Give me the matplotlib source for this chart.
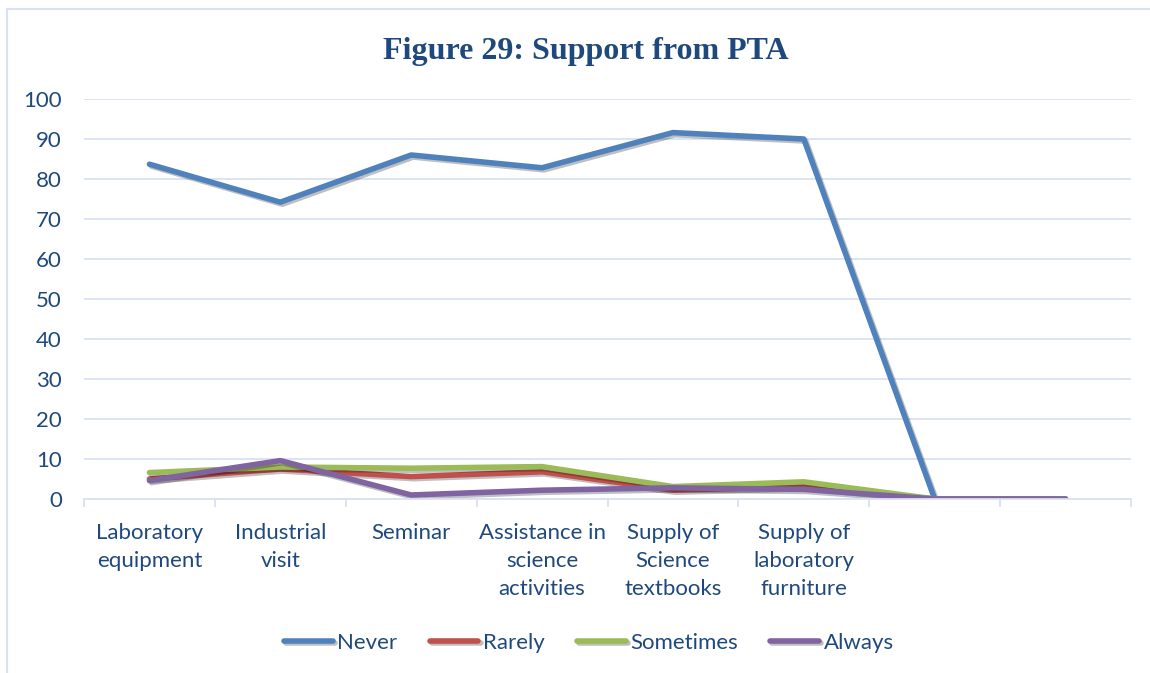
import numpy as np
import matplotlib.pyplot as plt
import matplotlib.patheffects as pe
from matplotlib.lines import Line2D

# Datos
categories = ["Laboratory\nequipment", "Industrial\nvisit", "Seminar",
              "Assistance in\nscience\nactivities", "Supply of\nScience\ntextbooks",
              "Supply of\nlaboratory\nfurniture", "", ""]
never = [83.7, 74.2, 86.0, 82.8, 91.6, 90.0, 0, 0]
rarely = [5.0, 7.5, 5.6, 6.8, 2.2, 3.1, 0, 0]
sometimes = [6.6, 8.0, 7.7, 8.1, 3.1, 4.3, 0, 0]
always = [4.6, 9.6, 1.0, 2.2, 2.8, 2.4, 0, 0]

series = [("Never", never, "#4F81BD"), ("Rarely", rarely, "#C0504D"),
          ("Sometimes", sometimes, "#9BBB59"), ("Always", always, "#8064A2")]

txt = "#1F497D"
grid = "#D9E2F3"
plt.rcParams['font.family'] = ['Lato', 'DejaVu Sans']

fig = plt.figure(figsize=(11.5, 6.73), dpi=100)
ax = fig.add_axes([84/1150, 1 - 499/673, (1131-84)/1150, 400/673])

x = np.arange(len(categories))
shadow = [pe.SimpleLineShadow(offset=(1.5, -1.5), shadow_color="k", alpha=0.25),
          pe.Normal()]
for name, vals, col in series:
    ax.plot(x, vals, color=col, lw=4.0, label=name, solid_capstyle="round",
            solid_joinstyle="round", path_effects=shadow)

ax.set_xlim(-0.5, len(categories) - 0.5)
ax.set_ylim(0, 100)
ax.set_yticks(np.arange(0, 101, 10))
ax.yaxis.grid(True, color=grid, lw=1.3)
ax.set_axisbelow(True)
for s in ["top", "right", "left"]:
    ax.spines[s].set_visible(False)
ax.spines["bottom"].set_color(grid)
ax.spines["bottom"].set_linewidth(1.3)

ax.set_xticks(x)
ax.set_xticklabels(categories, linespacing=1.52)
ax.set_xticks(np.arange(-0.5, len(categories)), minor=True)
ax.tick_params(axis="x", which="major", length=0, pad=17, labelsize=16, labelcolor=txt)
ax.tick_params(axis="x", which="minor", length=6, color=grid, width=1.3)
ax.tick_params(axis="y", length=0, pad=16, labelsize=16, labelcolor=txt)

fig.text(0.509, 1 - 51/673, "Figure 29: Support from PTA", ha="center", va="center",
         fontsize=23, fontweight="bold", color=txt, family="Liberation Serif")

leg = fig.legend(loc="center", bbox_to_anchor=(0.512, 1 - 643/673), ncol=4, frameon=False,
                 fontsize=16, handlelength=2.2, handletextpad=0.2, columnspacing=1.45)
for t in leg.get_texts():
    t.set_color(txt)
for h in leg.get_lines():
    h.set_linewidth(4.0)
    h.set_solid_capstyle("round")

# Marco del gráfico
fig.add_artist(Line2D([7/1150, 1], [1 - 9/673] * 2, color=grid, lw=1.5))
fig.add_artist(Line2D([7/1150] * 2, [0, 1 - 9/673], color=grid, lw=1.5))

fig.savefig("out.png", dpi=100)
